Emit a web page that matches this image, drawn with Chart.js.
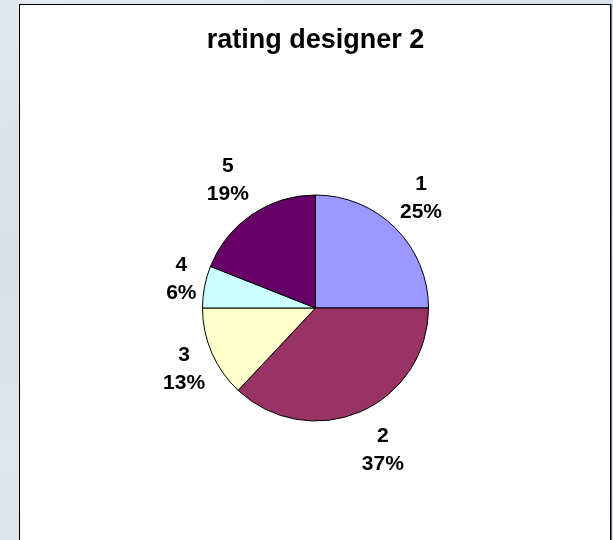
<!DOCTYPE html>
<html>
<head>
<meta charset="utf-8">
<script src="https://cdn.jsdelivr.net/npm/chart.js@4.4.1/dist/chart.umd.min.js"></script>
<style>
  html, body {
    margin: 0;
    padding: 0;
    width: 613px;
    height: 540px;
    overflow: hidden;
    background: linear-gradient(160deg, #e4e8ef 0%, #d9dfe8 35%, #e1e6ee 60%, #d7dde6 100%);
  }
  #frame {
    position: absolute;
    left: 19px;
    top: 4px;
    width: 592px;
    height: 560px;
    box-sizing: border-box;
    border: 1px solid #000;
    background: #fff;
    box-shadow: 1px 0 0 #6b6f76;
  }
  #chart {
    display: block;
  }
</style>
</head>
<body>
<div id="frame">
  <canvas id="chart" width="590" height="535"></canvas>
</div>
<script>
// rating values (percent of answers)
const ratingLabels = ['1', '2', '3', '4', '5'];
const ratingValues = [25, 37, 13, 6, 19];
const sliceColors = ['#9999FF', '#993366', '#FFFFCC', '#CCFFFF', '#660066'];

const FONT = '"Liberation Sans", Arial, sans-serif';

/**
 * Draw "category / percent" labels outside each slice, Excel style
 */
const outsideLabels = {
  id: 'outsideLabels',
  afterDatasetsDraw(chart) {
    const ctx = chart.ctx;
    const meta = chart.getDatasetMeta(0);
    const values = chart.data.datasets[0].data;
    const total = values.reduce((sum, v) => sum + v, 0);

    ctx.save();
    ctx.font = 'bold 21px ' + FONT;
    ctx.fillStyle = '#000';
    ctx.textAlign = 'center';
    ctx.textBaseline = 'middle';

    meta.data.forEach((arc, i) => {
      const { x, y, startAngle, endAngle, outerRadius } =
        arc.getProps(['x', 'y', 'startAngle', 'endAngle', 'outerRadius'], true);
      const mid = (startAngle + endAngle) / 2;
      const dx = Math.cos(mid);
      const dy = Math.sin(mid);

      const lines = [chart.data.labels[i], Math.round(values[i] / total * 100) + '%'];
      const w = Math.max(...lines.map(t => ctx.measureText(t).width));

      // anchor just outside the rim, then push the text box away from it
      const ax = x + dx * (outerRadius + 10);
      const ay = y + dy * (outerRadius + 10);
      const cx = ax + Math.sign(dx) * 0.88 * w / 2;
      const cy = ay + dy * 32;

      ctx.fillText(lines[0], cx, cy - 14);
      ctx.fillText(lines[1], cx, cy + 14);
    });
    ctx.restore();
  },
};

new Chart(document.getElementById('chart'), {
  type: 'pie',
  data: {
    labels: ratingLabels,
    datasets: [{
      data: ratingValues,
      backgroundColor: sliceColors,
      borderColor: '#000',
      borderWidth: 1,
      hoverOffset: 0,
    }],
  },
  options: {
    responsive: false,
    animation: false,
    layout: {
      padding: { left: 182, right: 181, top: 0, bottom: 118.5 },
    },
    plugins: {
      legend: { display: false },
      tooltip: { enabled: false },
      title: {
        display: true,
        text: 'rating designer 2',
        color: '#000',
        font: { family: FONT, size: 27, weight: 'bold' },
        padding: { top: 19.4, bottom: 137.7 },
      },
    },
  },
  plugins: [outsideLabels],
});
</script>
</body>
</html>
